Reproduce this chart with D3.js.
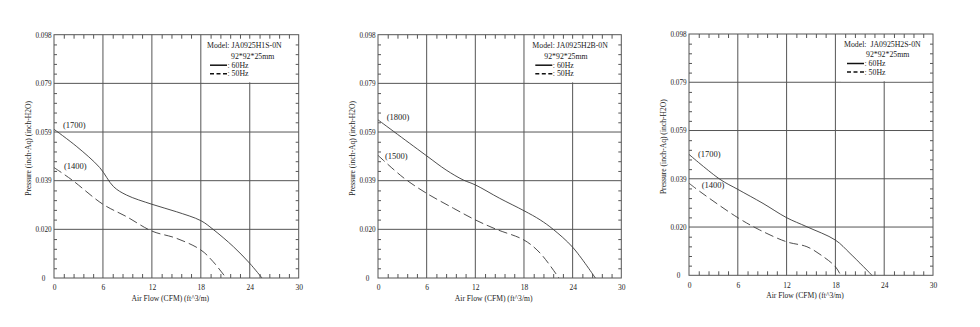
<!DOCTYPE html>
<html>
<head>
<meta charset="utf-8">
<script src="https://cdn.jsdelivr.net/npm/d3@7"></script>
<style>
  body { margin: 0; background: #fff; }
  svg { display: block; font-family: "Liberation Serif", "Times New Roman", serif; }
</style>
</head>
<body>
<svg id="chart" width="980" height="327"></svg>
<script>
// ---- data ----
const models = ["JA0925H1S-0N", "JA0925H2B-0N", "JA0925H2S-0N"];
const modelPrefix = ["Model: ", "Model: ", "Model:  "];
const sizeText = "92*92*25mm";
const rpm60 = ["(1700)", "(1800)", "(1700)"];
const rpm50 = ["(1400)", "(1500)", "(1400)"];

const flowTicks = [0, 6, 12, 18, 24, 30];
const pressureTicks = [0, 0.0196, 0.0392, 0.0588, 0.0784, 0.098];
const pressureTickLabels = ["0", "0.020", "0.039", "0.059", "0.079", "0.098"];

// JA0925H1S-0N
const h1sFlow60 = [0, 2.8, 5.6, 7.3, 8.9, 12, 15, 18, 19.5, 22, 24, 25.5];
const h1sPres60 = [0.0599, 0.0529, 0.0445, 0.0368, 0.0334, 0.0297, 0.0267, 0.0231, 0.0196, 0.0126, 0.0059, 0];
const h1sFlow50 = [0, 2.2, 6, 8.9, 12, 15, 18, 19.5, 21.1];
const h1sPres50 = [0.0445, 0.0395, 0.0297, 0.0247, 0.0189, 0.016, 0.0113, 0.0066, 0];

// JA0925H2B-0N
const h2bFlow60 = [0, 6, 8.4, 10.5, 12, 15, 18, 20, 21.6, 24, 26.8];
const h2bPres60 = [0.0637, 0.0492, 0.0435, 0.0395, 0.0375, 0.0321, 0.0271, 0.0234, 0.0196, 0.0124, 0];
const h2bFlow50 = [0, 2, 3.5, 6, 9.3, 12, 14.6, 18, 20, 22.3];
const h2bPres50 = [0.0494, 0.0435, 0.0395, 0.0341, 0.0281, 0.0234, 0.0196, 0.0153, 0.01, 0];

// JA0925H2S-0N
const h2sFlow60 = [0, 3.8, 6, 9.1, 12, 14.5, 18, 19.8, 22.5];
const h2sPres60 = [0.0491, 0.039, 0.0349, 0.0292, 0.0234, 0.0197, 0.0143, 0.0089, 0];
const h2sFlow50 = [0, 1.35, 6, 8.7, 12, 14.5, 16.5, 18, 18.65];
const h2sPres50 = [0.0374, 0.034, 0.0234, 0.0184, 0.0136, 0.0116, 0.0076, 0.0035, 0];

// ---- layout of the three plot boxes ----
const boxes = [
  { left: 54, right: 298.7, top: 34.7, bottom: 278, legendX: 153, sizeDx: 24, legendDy: 0,
    lab60: [9, -4], lab50: [10, -1] },
  { left: 378, right: 621.3, top: 34.7, bottom: 278, legendX: 154.3, sizeDx: 12, legendDy: 0,
    lab60: [8.7, -2.5], lab50: [7, 1] },
  { left: 689, right: 933, top: 34, bottom: 275.3, legendX: 155, sizeDx: 22, legendDy: -1,
    lab60: [9, 0], lab50: [12.7, 1.7] }
];
const series = [
  { f60: h1sFlow60, p60: h1sPres60, f50: h1sFlow50, p50: h1sPres50 },
  { f60: h2bFlow60, p60: h2bPres60, f50: h2bFlow50, p50: h2bPres50 },
  { f60: h2sFlow60, p60: h2sPres60, f50: h2sFlow50, p50: h2sPres50 }
];

const gridColor = "#555";
const curveColor = "#3a3a3a";
const textColor = "#222";

const svg = d3.select("#chart");

boxes.forEach((b, i) => {
  const x = d3.scaleLinear().domain([0, 30]).range([b.left, b.right]);
  const y = d3.scaleLinear().domain([0, 0.098]).range([b.bottom, b.top]);
  const g = svg.append("g");

  // grid lines at the labelled ticks
  g.append("g").selectAll("line").data(flowTicks.slice(1, -1)).join("line")
    .attr("x1", d => x(d)).attr("x2", d => x(d))
    .attr("y1", b.top).attr("y2", b.bottom)
    .attr("stroke", gridColor).attr("stroke-width", 1);
  g.append("g").selectAll("line").data(pressureTicks.slice(1, -1)).join("line")
    .attr("x1", b.left).attr("x2", b.right)
    .attr("y1", d => y(d)).attr("y2", d => y(d))
    .attr("stroke", gridColor).attr("stroke-width", 1);

  // legend panel (white box over the top-right grid)
  const lx = b.left + b.legendX;
  g.append("rect")
    .attr("x", lx - 3).attr("y", b.top + 4)
    .attr("width", b.right - lx - 1).attr("height", y(0.0784) - b.top - 5)
    .attr("fill", "#fff");

  // minor ticks, pointing into the plot on all four sides
  const minorX = d3.range(0, 30.01, 1.2).filter(v => Math.abs(v / 6 - Math.round(v / 6)) > 1e-6);
  const minorY = d3.range(0, 0.0981, 0.00392).filter(v => Math.abs(v / 0.0196 - Math.round(v / 0.0196)) > 1e-6);
  const tickStyle = sel => sel.call(s => s.select(".domain").remove())
    .selectAll("line").attr("stroke", gridColor);
  g.append("g").attr("transform", `translate(0,${b.bottom})`)
    .call(d3.axisBottom(x).tickValues(minorX).tickSize(-4).tickFormat(""))
    .call(tickStyle);
  g.append("g").attr("transform", `translate(0,${b.top})`)
    .call(d3.axisTop(x).tickValues(minorX).tickSize(-4).tickFormat(""))
    .call(tickStyle);
  g.append("g").attr("transform", `translate(${b.left},0)`)
    .call(d3.axisLeft(y).tickValues(minorY).tickSize(-3).tickFormat(""))
    .call(tickStyle);
  g.append("g").attr("transform", `translate(${b.right},0)`)
    .call(d3.axisRight(y).tickValues(minorY).tickSize(-3).tickFormat(""))
    .call(tickStyle);

  // frame
  g.append("rect")
    .attr("x", b.left).attr("y", b.top)
    .attr("width", b.right - b.left).attr("height", b.bottom - b.top)
    .attr("fill", "none").attr("stroke", gridColor).attr("stroke-width", 1);

  // tick labels
  const xAxis = g.append("g").attr("transform", `translate(0,${b.bottom})`)
    .call(d3.axisBottom(x).tickValues(flowTicks).tickSize(0).tickPadding(7).tickFormat(d3.format("d")));
  xAxis.select(".domain").remove();
  xAxis.selectAll("text").attr("font-size", 7.5).attr("fill", textColor)
    .attr("font-family", "Liberation Serif, serif");

  const yAxis = g.append("g").attr("transform", `translate(${b.left - 10.5},0)`)
    .call(d3.axisLeft(y).tickValues(pressureTicks).tickSize(0).tickPadding(0)
      .tickFormat((d, k) => pressureTickLabels[k]));
  yAxis.select(".domain").remove();
  yAxis.selectAll("text").attr("font-size", 7.2).attr("fill", textColor)
    .attr("text-anchor", "middle").attr("font-family", "Liberation Serif, serif");

  // axis titles
  g.append("text")
    .attr("x", (b.left + b.right) / 2 - 6).attr("y", b.bottom + 20)
    .attr("dy", "0.35em").attr("text-anchor", "middle")
    .attr("font-size", 7.6).attr("fill", textColor)
    .text("Air Flow (CFM) (ft^3/m)");
  g.append("text")
    .attr("transform", `translate(${b.left - 26},${(b.top + b.bottom) / 2 - 8}) rotate(-90)`)
    .attr("dy", "0.35em").attr("text-anchor", "middle")
    .attr("font-size", 7.6).attr("fill", textColor)
    .text("Pressure (inch-Aq) (inch-H2O)");

  // performance curves
  const s = series[i];
  const line = d3.line().x(d => x(d[0])).y(d => y(d[1])).curve(d3.curveCatmullRom.alpha(0.5));
  g.append("path").datum(d3.zip(s.f60, s.p60))
    .attr("d", line).attr("fill", "none")
    .attr("stroke", curveColor).attr("stroke-width", 0.9);
  g.append("path").datum(d3.zip(s.f50, s.p50))
    .attr("d", line).attr("fill", "none")
    .attr("stroke", curveColor).attr("stroke-width", 0.9)
    .attr("stroke-dasharray", "9,4");

  // speed annotations
  g.append("text").attr("x", b.left + b.lab60[0]).attr("y", y(s.p60[0]) + b.lab60[1])
    .attr("dy", "0.35em").attr("font-size", 8.5).attr("fill", textColor)
    .text(rpm60[i]);
  g.append("text").attr("x", b.left + b.lab50[0]).attr("y", y(s.p50[0]) + b.lab50[1])
    .attr("dy", "0.35em").attr("font-size", 8.5).attr("fill", textColor)
    .text(rpm50[i]);

  // legend
  const ly = b.top + 11 + b.legendDy;
  g.append("text").attr("x", lx).attr("y", ly).attr("dy", "0.35em")
    .attr("font-size", 7.8).attr("fill", textColor)
    .attr("xml:space", "preserve").style("white-space", "pre")
    .text(modelPrefix[i] + models[i]);
  g.append("text").attr("x", lx + b.sizeDx).attr("y", ly + 10.5).attr("dy", "0.35em")
    .attr("font-size", 7.8).attr("fill", textColor)
    .text(sizeText);
  g.append("line").attr("x1", lx + 3).attr("x2", lx + 20)
    .attr("y1", ly + 19.5).attr("y2", ly + 19.5)
    .attr("stroke", "#111").attr("stroke-width", 1.5);
  g.append("text").attr("x", lx + 20.5).attr("y", ly + 19.5).attr("dy", "0.35em")
    .attr("font-size", 7.8).attr("fill", textColor).text(": 60Hz");
  g.append("line").attr("x1", lx + 3).attr("x2", lx + 20)
    .attr("y1", ly + 28).attr("y2", ly + 28)
    .attr("stroke", "#111").attr("stroke-width", 1.5)
    .attr("stroke-dasharray", "4,2.5");
  g.append("text").attr("x", lx + 20.5).attr("y", ly + 28).attr("dy", "0.35em")
    .attr("font-size", 7.8).attr("fill", textColor).text(": 50Hz");
});
</script>
</body>
</html>
